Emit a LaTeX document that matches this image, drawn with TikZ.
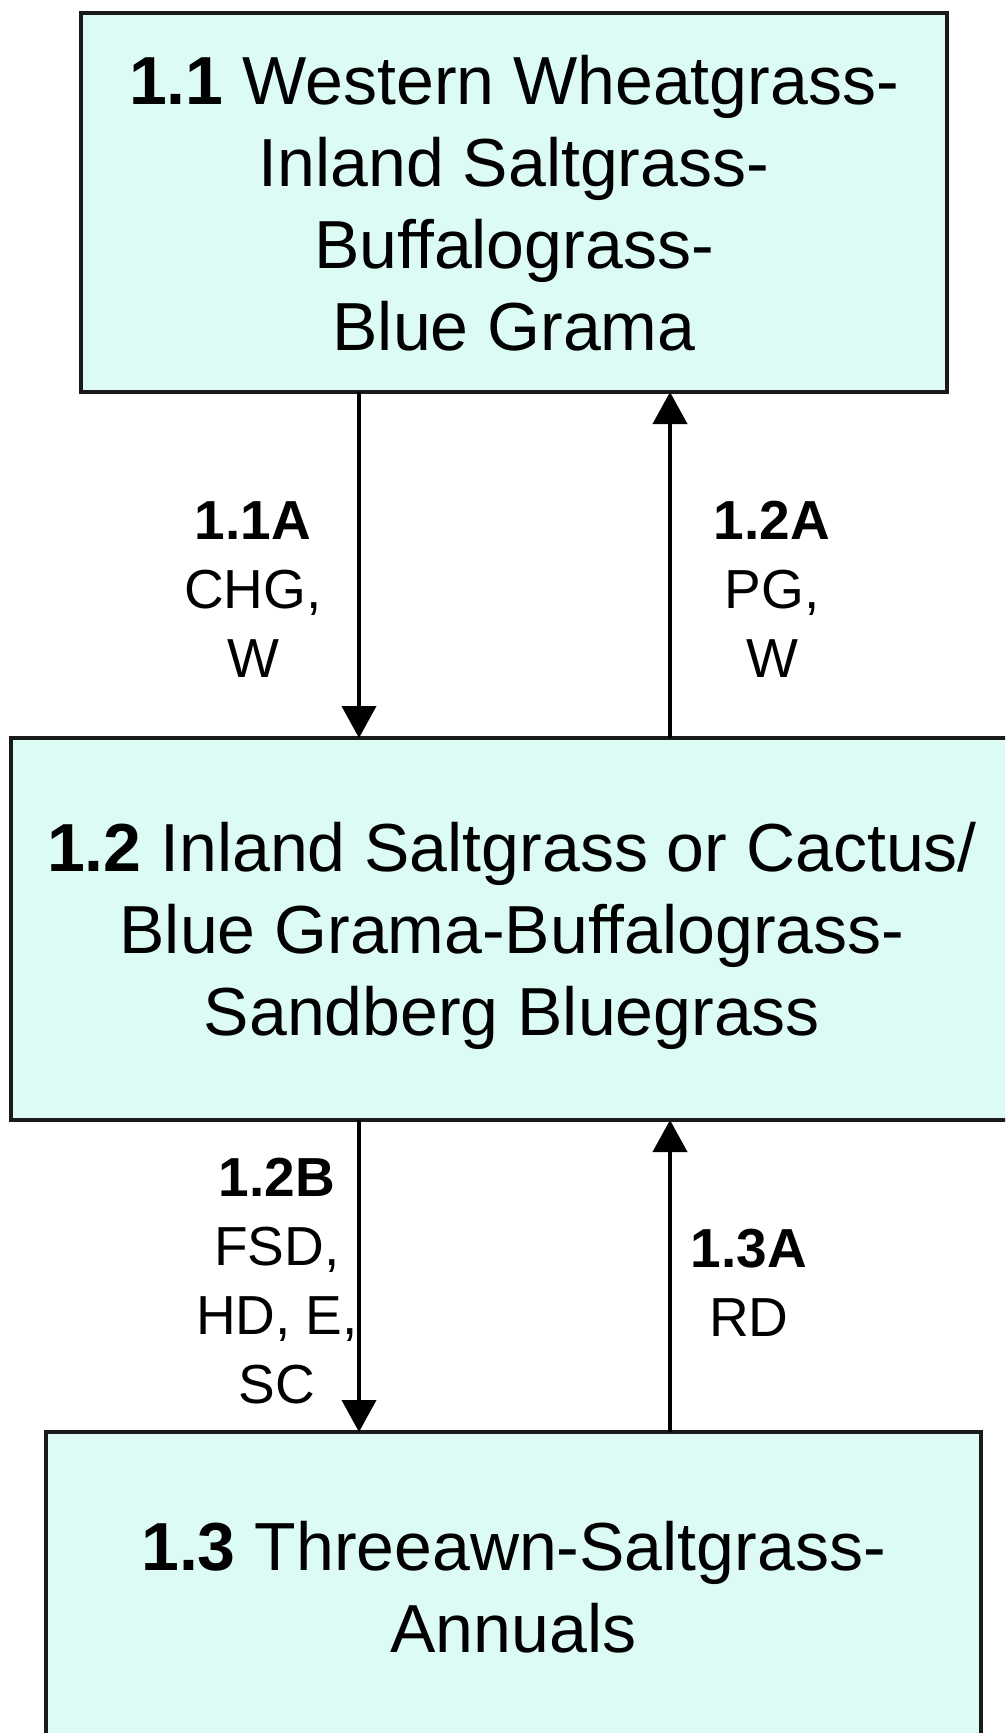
\documentclass[tikz,border=0pt]{standalone}
\usepackage{fontspec}
\setmainfont{Liberation Sans}
\usetikzlibrary{arrows.meta}

\definecolor{statefill}{RGB}{221,251,245}
\definecolor{edge}{RGB}{26,26,26}

\tikzset{
  statebox/.style={draw=edge, line width=4.5pt, fill=statefill, rectangle,
    inner sep=0pt, outer sep=0pt, align=center, text depth=0pt,
    font=\fontsize{68}{82}\selectfont},
  % multi-line labels: the base anchor sits on the last line
  pathlabel/.style={align=center, anchor=base, inner sep=0pt,
    font=\fontsize{55}{69}\selectfont},
  transition/.style={line width=4pt, draw=black,
    -{Triangle[width=34pt,length=32pt]}}
}

\begin{document}
\begin{tikzpicture}[x=1pt,y=-1pt]
  % page frame
  \clip (0,0) rectangle (1005,1733);
  \fill[white] (0,0) rectangle (1005,1733);

  % community phases
  \node[statebox, minimum width=866pt, minimum height=379pt] (p11) at (514,202.5)
    {\textbf{1.1} Western Wheatgrass-\\Inland Saltgrass-\\Buffalograss-\\Blue Grama};
  \node[statebox, minimum width=1002pt, minimum height=382pt] (p12) at (512,929)
    {\textbf{1.2} Inland Saltgrass or Cactus/\\Blue Grama-Buffalograss-\\Sandberg Bluegrass};
  \node[statebox, minimum width=935pt, minimum height=310pt] (p13) at (513.5,1587)
    {\textbf{1.3} Threeawn-Saltgrass-\\Annuals};

  % columns of the transition arrows
  \coordinate (down) at (359,0);
  \coordinate (up) at (670,0);

  % transitions
  \draw[transition] (p11.south -| down) -- (p12.north -| down);
  \draw[transition] (p12.north -| up) -- (p11.south -| up);
  \draw[transition] (p12.south -| down) -- (p13.north -| down);
  \draw[transition] (p13.north -| up) -- (p12.south -| up);

  % transition labels
  \node[pathlabel] (t11a) at (253,677) {\textbf{1.1A}\\CHG,\\W};
  \node[pathlabel] (t12a) at (772,677) {\textbf{1.2A}\\PG,\\W};
  \node[pathlabel] (t12b) at (277,1403) {\textbf{1.2B}\\FSD,\\HD, E,\\SC};
  \node[pathlabel] (t13a) at (749,1336) {\textbf{1.3A}\\RD};
\end{tikzpicture}
\end{document}
